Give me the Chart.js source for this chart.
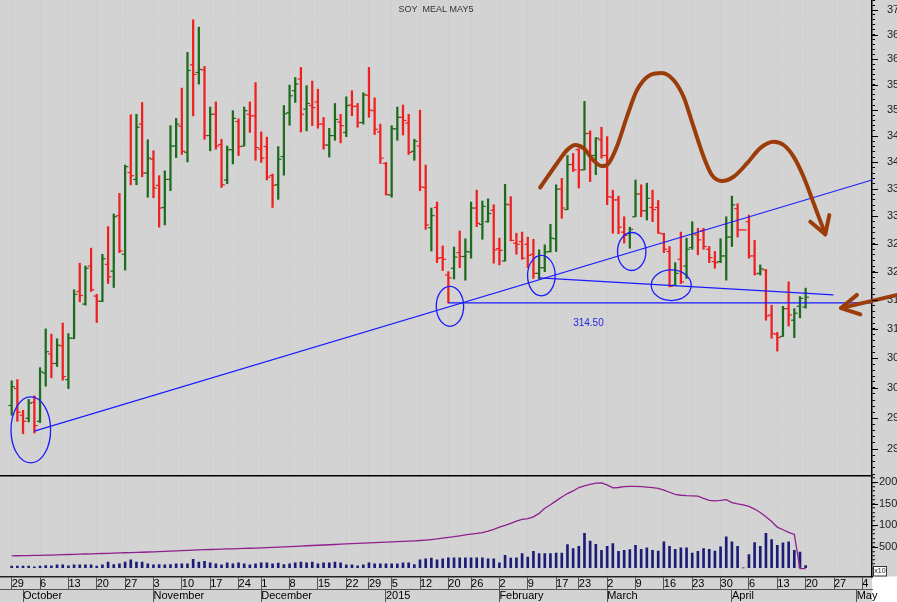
<!DOCTYPE html>
<html>
<head>
<meta charset="utf-8">
<script src="https://cdn.jsdelivr.net/npm/chart.js@4.4.1/dist/chart.umd.min.js"></script>
<style>
  html, body { margin: 0; padding: 0; background: #d3d3d3; }
  canvas { display: block; }
</style>
</head>
<body>
<canvas id="chart" width="897" height="602"></canvas>
<script>
// trading-day index: 0 = 29 Sep 2014 ... 140 = 20 Apr 2015
const opens = [
  297.1,299.9,295.5,295.0,297.6,294.5,302.5,305.7,304.1,307.1,
  301.4,308.4,316.5,314.3,321.0,315.7,314.8,321.3,320.1,330.1,
  323.1,338.1,336.8,347.3,338.0,340.6,335.7,331.6,336.8,343.1,
  346.9,341.9,358.9,357.4,357.9,345.1,349.2,343.4,336.7,342.4,
  347.8,343.1,349.2,348.9,342.5,343.0,337.5,335.8,341.1,349.5,
  353.8,356.1,350.2,350.9,351.6,347.3,343.3,345.1,347.7,345.7,
  351.0,350.8,347.6,352.9,349.9,345.8,339.8,333.9,346.4,348.6,
  347.5,342.1,343.1,335.3,327.9,331.6,322.5,319.4,320.6,323.4,
  322.7,323.5,331.5,328.5,329.0,331.1,324.1,321.9,332.1,325.1,
  325.4,324.9,323.1,319.7,320.7,323.6,325.9,335.0,331.2,339.6,
  342.4,338.6,345.5,341.3,344.3,341.3,333.5,333.0,327.1,326.8,
  329.9,334.1,331.0,331.6,331.6,326.8,323.6,317.6,322.2,321.0,
  324.3,326.6,327.4,324.0,321.8,321.8,322.8,326.2,331.4,327.5,
  329.0,322.8,319.7,320.3,312.4,309.1,308.7,313.5,311.5,313.9,
  313.8
];
const highs = [
  301.2,301.4,296.3,298.1,298.7,303.4,310.0,309.1,308.3,311.0,
  309.2,316.8,321.5,321.0,324.2,316.0,323.1,328.1,330.4,334.2,
  339.5,349.1,349.2,351.5,344.3,342.2,337.5,338.4,347.0,348.4,
  354.3,361.4,368.0,366.5,358.6,350.6,351.6,344.4,343.1,349.9,
  348.3,350.6,351.6,355.4,345.8,344.8,337.8,343.0,350.9,354.9,
  356.4,358.4,354.8,355.7,354.1,348.6,346.5,351.3,349.2,352.6,
  353.8,351.3,353.4,358.4,352.4,347.3,340.0,347.0,350.6,351.0,
  349.2,344.4,350.0,339.5,331.5,332.6,324.6,320.0,324.4,327.3,
  325.9,332.6,334.8,332.8,333.2,332.1,326.0,335.9,333.6,326.9,
  327.1,326.2,325.8,323.9,324.8,328.5,335.8,337.0,341.3,341.7,
  342.6,351.7,346.0,344.7,346.7,344.9,334.8,333.7,329.9,328.0,
  336.7,335.8,336.1,334.8,332.9,326.9,324.5,321.6,327.1,326.0,
  329.0,327.8,327.8,324.5,323.6,325.9,329.9,333.7,332.3,327.5,
  330.2,325.6,321.2,320.4,314.1,309.4,313.9,318.2,313.5,315.6,
  317.1
];
const lows = [
  295.5,294.5,292.5,294.4,292.6,294.3,300.3,301.7,303.6,301.3,
  299.9,308.3,314.7,314.1,316.5,311.1,314.7,317.9,317.2,323.4,
  320.3,335.8,335.8,337.3,333.5,333.4,328.0,328.4,334.7,340.9,
  341.5,340.1,348.9,355.1,344.4,342.2,342.5,335.3,336.0,339.7,
  341.3,343.1,345.7,340.4,340.0,336.7,331.6,333.1,337.6,347.1,
  351.5,345.8,346.0,347.0,346.5,342.5,341.0,344.2,343.7,344.9,
  348.9,346.7,347.3,348.6,345.3,339.8,333.9,333.5,344.2,345.2,
  341.5,340.4,334.7,327.6,323.7,321.6,320.2,314.5,318.7,320.7,
  318.5,322.4,328.1,325.8,328.9,321.5,321.2,321.9,325.5,323.1,
  322.2,320.7,318.8,318.7,320.0,323.5,323.6,329.6,331.2,338.3,
  335.2,338.6,336.4,337.7,340.8,332.1,326.9,326.8,325.1,324.2,
  329.9,329.9,329.3,329.0,326.9,323.4,317.3,317.6,317.9,318.8,
  324.0,323.0,324.0,321.6,320.6,321.6,318.5,324.5,326.2,327.5,
  322.4,319.4,319.4,311.5,308.4,306.2,308.7,310.5,308.5,311.9,
  313.6
];
const closes = [
  300.2,296.0,294.5,297.5,293.8,302.7,306.1,304.1,307.2,301.9,
  308.4,316.0,315.8,320.6,316.8,314.8,322.3,319.1,329.9,323.7,
  339.2,337.5,346.7,338.0,340.8,335.2,331.5,336.8,343.1,347.3,
  342.1,357.8,357.0,358.0,345.1,349.2,343.1,335.8,342.4,348.4,
  343.0,349.9,348.9,342.8,340.8,337.2,335.7,340.6,349.3,352.8,
  355.1,349.2,351.3,350.5,347.3,343.3,345.1,348.2,347.0,350.9,
  350.7,347.6,353.0,350.0,346.3,340.8,334.0,346.4,348.6,348.0,
  341.9,344.0,335.4,328.4,330.1,322.4,322.2,318.9,322.6,322.7,
  323.6,331.5,328.7,331.8,330.5,323.9,323.8,332.2,325.6,324.9,
  322.4,322.9,319.7,320.7,323.5,326.0,335.0,331.5,339.6,338.6,
  338.6,345.5,341.3,344.6,341.3,333.6,333.0,328.0,326.5,327.6,
  334.1,331.0,333.3,331.2,326.9,324.0,317.4,319.7,318.2,324.0,
  326.8,325.7,324.5,322.5,321.6,322.8,326.2,332.1,327.5,327.5,
  322.8,319.6,320.5,312.2,309.2,308.5,313.5,312.4,312.7,315.3,
  315.5
];
const volume = [
  55,55,55,55,39,55,70,62,86,86,
  62,86,86,86,86,55,86,149,94,110,
  149,204,149,149,110,86,94,86,94,110,
  110,110,212,149,165,133,110,86,133,110,
  133,110,86,110,133,133,110,125,94,110,
  133,149,133,149,110,133,133,149,133,86,
  86,62,86,133,110,110,110,110,110,133,
  133,94,204,227,243,204,227,251,251,251,
  251,251,251,251,227,227,133,305,243,251,
  345,266,400,345,345,345,360,360,556,462,
  517,815,635,564,423,517,580,400,423,439,
  541,447,478,423,407,619,517,447,478,478,
  360,400,462,447,407,501,736,619,517,16,
  321,603,517,815,674,541,595,619,423,384,
  70
];
const openInterest = [
  295,297,299,301,304,307,310,313,317,321,
  325,329,333,337,341,345,349,353,357,361,
  366,370,374,378,383,388,393,398,404,410,
  416,422,428,434,438,442,446,450,454,458,
  462,466,470,475,480,486,492,498,504,510,
  516,522,528,534,540,546,552,558,564,570,
  576,582,588,594,600,606,612,618,624,630,
  636,642,650,660,672,686,705,725,740,760,
  780,800,815,835,870,910,960,1000,1050,1100,
  1140,1160,1200,1280,1400,1480,1570,1660,1740,1800,
  1880,1920,1950,1980,1985,1940,1870,1880,1900,1905,
  1905,1900,1890,1875,1860,1820,1770,1720,1700,1690,
  1685,1680,1630,1580,1570,1580,1600,1530,1500,1475,
  1440,1380,1300,1200,1090,960,900,840,790,0,
  0
];

const weekTicks = [0,5,10,15,20,25,30,35,40,44,49,54,59,63,67,72,77,81,86,91,96,100,105,110,115,120,125,130,135,140,145,150];
const weekLabels = ['29','6','13','20','27','3','10','17','24','1','8','15','22','29','5','12','20','26','2','9','17','23','2','9','16','23','30','6','13','20','27','4'];
const monthTicks = [2,25,44,66,86,105,127,149];
const monthLabels = ['October','November','December','2015','February','March','April','May'];
const priceLabels = [290,295,300,305,310,315,320,325,330,335,340,345,350,355,360,365,370];
const volumeLabels = [500,1000,1500,2000];

// drawn annotations, in (day index, price) units
const trendUp = [{x: 4, y: 292.9}, {x: 151.7, y: 336.7}];
const support = [{x: 77, y: 314.5}, {x: 151.7, y: 314.5}];
const trendDown = [{x: 93.07, y: 318.9}, {x: 144.9, y: 315.9}];
const circled = [{x: 3.37, y: 293.1}, {x: 77.28, y: 313.9}, {x: 93.4, y: 319.3}, {x: 109.33, y: 323.6}, {x: 116.3, y: 317.6}];
const brownPath = [
  {x: 93.19, y: 335.3}, {x: 96.14, y: 339.8}, {x: 97.9, y: 342.3}, {x: 99.36, y: 343.3},
  {x: 100.83, y: 342.7}, {x: 102.59, y: 340.4}, {x: 104.07, y: 339.3}, {x: 105.24, y: 339.8},
  {x: 106.72, y: 343.0}, {x: 108.48, y: 348.7}, {x: 110.25, y: 353.9}, {x: 112.6, y: 356.9},
  {x: 114.66, y: 357.3}, {x: 116.7, y: 355.9}, {x: 118.47, y: 352.6}, {x: 120.23, y: 346.8},
  {x: 122.0, y: 341.1}, {x: 123.48, y: 337.6}, {x: 125.24, y: 336.5}, {x: 127.29, y: 337.3},
  {x: 129.65, y: 339.8}, {x: 132.0, y: 342.7}, {x: 134.34, y: 343.9}, {x: 136.11, y: 343.3},
  {x: 137.87, y: 341.1}, {x: 139.63, y: 337.3}, {x: 141.4, y: 332.4}, {x: 143.46, y: 326.7}
];
const brownHead = [{x: 140.82, y: 329.0}, {x: 143.46, y: 326.7}, {x: 144.17, y: 330.2}];
const arrowShaft = [{x: 146.24, y: 313.6}, {x: 156.17, y: 315.9}];
const arrowHead = [{x: 149.05, y: 315.9}, {x: 146.24, y: 313.6}, {x: 149.64, y: 312.5}];
const levelText = {x: 101.7, y: 311.0, text: '314.50'};
const chartTitle = 'SOY  MEAL MAY5';

const xMin = -2.06, xMax = 151.7;
const yMin = 285.7, yMax = 372.06;
const vMin = -185, vMax = 2147;

const FONT = "'Liberation Sans', Arial, sans-serif";
const UP = '#1d6b1d', DOWN = '#ee2020', BLUE = '#1a1aff', BROWN = '#9b3c0a';
const ellipseRadii = [[19.8, 33], [13.7, 20], [13.8, 20.3], [14.2, 19], [20, 15.3]];

const days = opens.map((_, i) => i);
const barColors = days.map(i => closes[i] > opens[i] ? UP : DOWN);

const backdrop = {
  id: 'backdrop',
  beforeDraw(chart) {
    const {ctx, width, height, chartArea, scales} = chart;
    ctx.save();
    ctx.fillStyle = '#d3d3d3';
    ctx.fillRect(0, 0, width, height);
    ctx.fillStyle = '#ffffff';
    ctx.fillRect(chartArea.right, scales.x.top, width - chartArea.right, height - scales.x.top);
    ctx.restore();
  }
};

const overlay = {
  id: 'overlay',
  afterDatasetsDraw(chart) {
    const {ctx, chartArea} = chart;
    const xs = chart.scales.x, ys = chart.scales.y;
    ctx.save();
    ctx.fillStyle = '#333';
    ctx.font = '9px ' + FONT;
    ctx.textAlign = 'center';
    ctx.textBaseline = 'middle';
    ctx.fillText(chartTitle, (chartArea.left + chartArea.right) / 2, chartArea.top + 10);

    ctx.strokeStyle = BLUE;
    ctx.lineWidth = 1.3;
    circled.forEach((c, k) => {
      ctx.beginPath();
      ctx.ellipse(xs.getPixelForValue(c.x), ys.getPixelForValue(c.y), ellipseRadii[k][0], ellipseRadii[k][1], 0, 0, Math.PI * 2);
      ctx.stroke();
    });

    ctx.fillStyle = '#2525e6';
    ctx.font = '10px ' + FONT;
    ctx.fillText(levelText.text, xs.getPixelForValue(levelText.x), ys.getPixelForValue(levelText.y));
    ctx.restore();
  },
  afterDraw(chart) {
    const {ctx} = chart;
    const ys = chart.scales.y, yv = chart.scales.yv;
    ctx.save();
    ctx.strokeStyle = '#000';
    ctx.lineWidth = 1;
    ctx.beginPath();
    priceLabels.forEach(v => {
      const p = Math.round(ys.getPixelForValue(v)) + 0.5;
      ctx.moveTo(ys.left, p); ctx.lineTo(ys.left + 6, p);
    });
    volumeLabels.forEach(v => {
      const p = Math.round(yv.getPixelForValue(v)) + 0.5;
      ctx.moveTo(yv.left, p); ctx.lineTo(yv.left + 6, p);
    });
    ctx.stroke();
    // "x10" marker of the volume scale
    const bx = yv.left + 1.5, by = yv.bottom - 10;
    ctx.fillStyle = '#fff';
    ctx.fillRect(bx, by, 13, 9.5);
    ctx.strokeStyle = '#333';
    ctx.strokeRect(bx, by, 13, 9.5);
    ctx.fillStyle = '#222';
    ctx.font = '7px ' + FONT;
    ctx.textAlign = 'center';
    ctx.textBaseline = 'middle';
    ctx.fillText('x10', bx + 6.5, by + 5);
    ctx.restore();
  }
};

const lineStyle = (data, color, width, extra) => Object.assign({
  type: 'line', data: data, borderColor: color, borderWidth: width,
  pointRadius: 0, pointHoverRadius: 0, tension: 0, order: 0,
  xAxisID: 'x', yAxisID: 'y'
}, extra || {});

new Chart(document.getElementById('chart').getContext('2d'), {
  type: 'bar',
  data: {
    datasets: [
      lineStyle(brownPath, BROWN, 4, {cubicInterpolationMode: 'monotone', borderCapStyle: 'round'}),
      lineStyle(brownHead, BROWN, 4, {borderCapStyle: 'round', borderJoinStyle: 'round'}),
      lineStyle(arrowShaft, BROWN, 4, {clip: false, borderCapStyle: 'round'}),
      lineStyle(arrowHead, BROWN, 4, {clip: false, borderCapStyle: 'round', borderJoinStyle: 'round'}),
      lineStyle(trendUp, BLUE, 1.2),
      lineStyle(support, BLUE, 1.2),
      lineStyle(trendDown, BLUE, 1.2),
      {
        type: 'line', showLine: false, order: 2, xAxisID: 'x', yAxisID: 'y',
        data: days.map(i => ({x: i - 0.3, y: opens[i]})),
        pointStyle: 'line', pointRadius: 1.6, pointHoverRadius: 0,
        pointBorderWidth: 1.2, pointBorderColor: barColors
      },
      {
        type: 'line', showLine: false, order: 2, xAxisID: 'x', yAxisID: 'y',
        data: days.map(i => ({x: i + 0.3, y: closes[i]})),
        pointStyle: 'line', pointRadius: 1.6, pointHoverRadius: 0,
        pointBorderWidth: 1.2, pointBorderColor: barColors
      },
      {
        type: 'bar', order: 3, xAxisID: 'x', yAxisID: 'y', grouped: false,
        data: days.map(i => ({x: i, y: [lows[i], highs[i]]})),
        backgroundColor: barColors, borderWidth: 0, barThickness: 1.6
      },
      {
        type: 'line', order: 1, xAxisID: 'x', yAxisID: 'yv',
        data: days.map(i => ({x: i, y: openInterest[i]})),
        borderColor: '#8f1f8f', borderWidth: 1.3, pointRadius: 0, pointHoverRadius: 0, tension: 0
      },
      {
        type: 'bar', order: 3, xAxisID: 'x', yAxisID: 'yv', grouped: false,
        data: days.map(i => ({x: i, y: volume[i]})),
        backgroundColor: '#1c1c78', borderWidth: 0, barThickness: 2
      }
    ]
  },
  options: {
    responsive: false,
    devicePixelRatio: 1,
    animation: false,
    events: [],
    layout: {padding: 0, autoPadding: false},
    plugins: {legend: {display: false}, tooltip: {enabled: false}, title: {display: false}},
    scales: {
      x: {
        type: 'linear', position: 'bottom', min: xMin, max: xMax, bounds: 'data', offset: false,
        afterBuildTicks: s => { s.ticks = weekTicks.map(v => ({value: v})); },
        afterFit: s => { s.height = 12.5; s.paddingLeft = s.paddingRight = s.paddingTop = s.paddingBottom = 0; },
        ticks: {
          autoSkip: false, maxRotation: 0, minRotation: 0, align: 'start', padding: -11.5,
          color: '#000', font: {family: FONT, size: 11},
          callback: (v, i) => weekLabels[i]
        },
        grid: {offset: false, color: '#c4c4c4', lineWidth: 1, tickLength: 12.5, tickColor: '#555', tickWidth: 1},
        border: {color: '#222', width: 1.5, dash: [1, 2]}
      },
      x2: {
        type: 'linear', position: 'bottom', min: xMin, max: xMax, bounds: 'data', offset: false,
        afterBuildTicks: s => { s.ticks = monthTicks.map(v => ({value: v})); },
        afterFit: s => { s.height = 13; s.paddingLeft = s.paddingRight = s.paddingTop = s.paddingBottom = 0; },
        ticks: {
          autoSkip: false, maxRotation: 0, minRotation: 0, align: 'start', padding: -12.5,
          color: '#000', font: {family: FONT, size: 11},
          callback: (v, i) => monthLabels[i]
        },
        grid: {offset: false, drawOnChartArea: false, tickLength: 13, tickColor: '#555', tickWidth: 1},
        border: {color: '#555', width: 1}
      },
      y: {
        type: 'logarithmic', position: 'right', stack: 'panels', stackWeight: 476,
        min: yMin, max: yMax, bounds: 'data',
        afterBuildTicks: s => {
          const t = [];
          for (let v = Math.ceil(yMin); v <= yMax; v++) t.push({value: v});
          s.ticks = t;
        },
        afterFit: s => { s.width = 25; s.paddingTop = s.paddingBottom = 0; },
        ticks: {
          autoSkip: false, padding: 12, color: '#222', font: {family: FONT, size: 11},
          callback: v => priceLabels.includes(Math.round(v)) ? String(Math.round(v)) : ''
        },
        grid: {drawOnChartArea: false, tickLength: 3, tickColor: '#000', tickWidth: 1},
        border: {color: '#000', width: 1.5}
      },
      yv: {
        type: 'linear', position: 'right', stack: 'panels', stackWeight: 100.5,
        min: vMin, max: vMax, bounds: 'data',
        afterBuildTicks: s => {
          const t = [];
          for (let v = 0; v <= 2100; v += 100) t.push({value: v});
          t.push({value: vMax});
          s.ticks = t;
        },
        afterFit: s => { s.width = 25; s.paddingTop = s.paddingBottom = 0; },
        ticks: {
          autoSkip: false, padding: 4, color: '#222', font: {family: FONT, size: 11},
          callback: v => volumeLabels.includes(v) ? String(v) : ''
        },
        grid: {
          drawOnChartArea: true, lineWidth: 1.5, tickLength: 3, tickWidth: 1,
          color: c => (c.tick && c.tick.value === vMax) ? '#000' : 'rgba(0,0,0,0)',
          tickColor: c => (c.tick && c.tick.value === vMax) ? 'rgba(0,0,0,0)' : '#000'
        },
        border: {color: '#000', width: 1.5}
      }
    }
  },
  plugins: [backdrop, overlay]
});
</script>
</body>
</html>
